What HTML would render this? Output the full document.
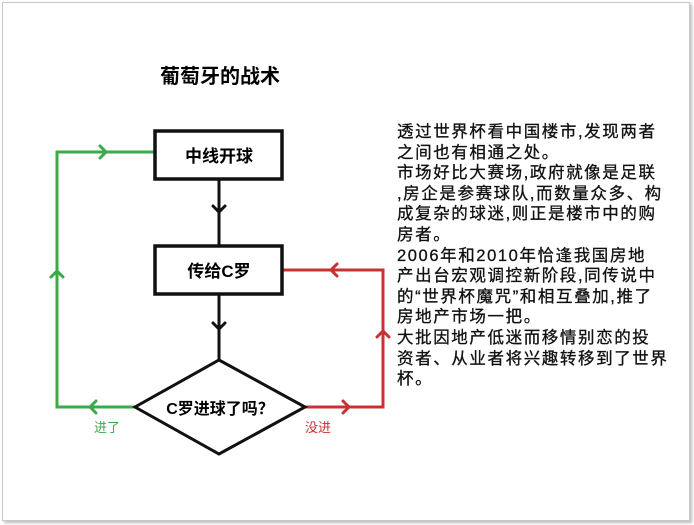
<!DOCTYPE html>
<html><head><meta charset="utf-8"><style>
body{margin:0;width:694px;height:525px;background:#fff;overflow:hidden;position:relative;font-family:"Liberation Sans","Noto Sans CJK SC",sans-serif}
.frame{position:absolute;left:2px;top:2px;width:686px;height:517px;border:1px solid #c8c8c8;box-shadow:2px 2px 3px #bbb}
.txt{position:absolute;left:397px;top:122px;font-size:16.5px;line-height:20.6px;letter-spacing:1.6px;color:#111;white-space:nowrap;-webkit-text-stroke:0.3px #111}
</style></head><body>
<div class="frame"></div>
<svg width="694" height="525" style="position:absolute;left:0;top:0" font-family="Liberation Sans, Noto Sans CJK SC, sans-serif">
<text x="220" y="83" font-size="20" font-weight="bold" text-anchor="middle">葡萄牙的战术</text>
<g fill="none" stroke-width="3" stroke-linecap="round">
<polyline points="155,152 57,152 57,407 135,407" stroke="#3aaa4a"/>
<polyline points="100,146 106,152 100,158" stroke="#3aaa4a"/>
<polyline points="51,277 57,271 63,277" stroke="#3aaa4a"/>
<polyline points="96,401 90,407 96,413" stroke="#3aaa4a"/>
<polyline points="305,407 383,407 383,270 282,270" stroke="#c83232"/>
<polyline points="343,401 349,407 343,413" stroke="#c83232"/>
<polyline points="377,337 383,331 389,337" stroke="#c83232"/>
<polyline points="337,264 331,270 337,276" stroke="#c83232"/>
<line x1="219" y1="179" x2="219" y2="246" stroke="#111"/>
<polyline points="213,206 219,212 225,206" stroke="#111"/>
<line x1="219" y1="295" x2="219" y2="360" stroke="#111"/>
<polyline points="213,323 219,329 225,323" stroke="#111"/>
</g>
<rect x="155" y="131" width="127" height="48" fill="#fff" stroke="#111" stroke-width="3.5"/>
<rect x="155" y="246" width="127" height="48" fill="#fff" stroke="#111" stroke-width="3.5"/>
<polygon points="219,360 305,407 219,454 135,407" fill="#fff" stroke="#111" stroke-width="3"/>
<text x="219" y="162" font-size="17" font-weight="bold" text-anchor="middle">中线开球</text>
<text x="219" y="277" font-size="17" font-weight="bold" text-anchor="middle">传给C罗</text>
<text x="220" y="414" font-size="16" font-weight="bold" text-anchor="middle">C罗进球了吗？</text>
<text x="107" y="432" font-size="13" fill="#3aaa4a" text-anchor="middle">进了</text>
<text x="318" y="432" font-size="13" fill="#c83232" text-anchor="middle">没进</text>
</svg>
<div class="txt">透过世界杯看中国楼市,发现两者<br>之间也有相通之处。<br>市场好比大赛场,政府就像是足联<br>,房企是参赛球队,而数量众多、构<br>成复杂的球迷,则正是楼市中的购<br>房者。<br>2006年和2010年恰逢我国房地<br>产出台宏观调控新阶段,同传说中<br>的“世界杯魔咒”和相互叠加,推了<br>房地产市场一把。<br>大批因地产低迷而移情别恋的投<br>资者、从业者将兴趣转移到了世界<br>杯。</div>
</body></html>
